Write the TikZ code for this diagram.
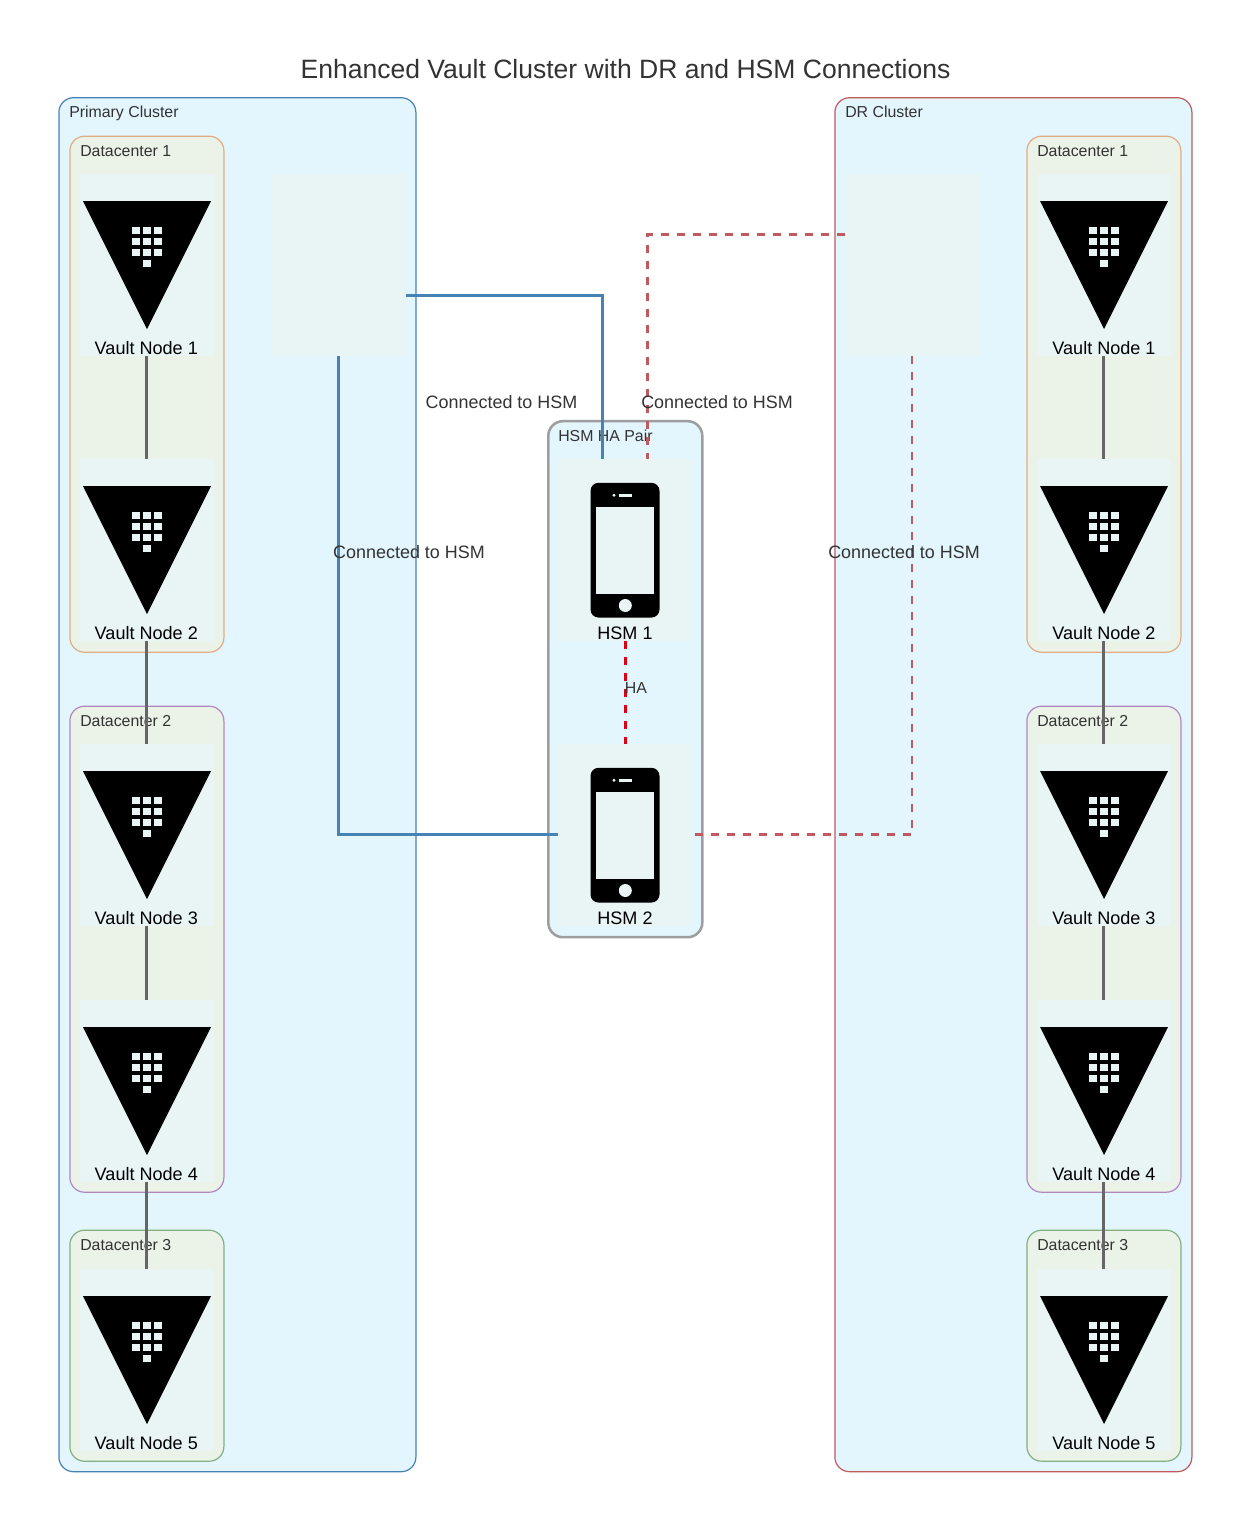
\documentclass[tikz,border=0pt]{standalone}
\usepackage{fontspec}
\setmainfont{Liberation Sans}
\usetikzlibrary{calc}
\definecolor{clusterfill}{HTML}{E3F5FD}
\definecolor{dcfill}{HTML}{EBF3E8}
\definecolor{nodefill}{HTML}{E8F5F4}
\definecolor{txt}{HTML}{333333}
\definecolor{primaryc}{HTML}{4682B4}
\definecolor{drc}{HTML}{C05A5F}
\definecolor{dcA}{HTML}{E0AC85}
\definecolor{dcB}{HTML}{B088C0}
\definecolor{dcC}{HTML}{82B080}
\definecolor{hsmgray}{HTML}{9E9E9E}
\definecolor{edgegray}{HTML}{666666}
\definecolor{hared}{HTML}{DD0011}
\tikzset{
  x=0.75pt,y=-0.75pt,
  clusterbox/.style={rectangle,rounded corners=11pt,fill=clusterfill,line width=0.9pt,inner sep=0pt,outer sep=0pt},
  dcbox/.style={rectangle,rounded corners=11pt,fill=dcfill,line width=0.9pt,inner sep=0pt,outer sep=0pt},
  hsmbox/.style={rectangle,rounded corners=11pt,fill=clusterfill,draw=hsmgray,line width=1.9pt,inner sep=0pt,outer sep=0pt},
  nodebox/.style={rectangle,fill=nodefill,inner sep=0pt,outer sep=0pt,minimum width=100.5pt,minimum height=136.5pt,anchor=north},
  emptybox/.style={rectangle,fill=nodefill,inner sep=0pt,outer sep=0pt,minimum width=100.5pt,minimum height=136.5pt,anchor=north west},
  grouplabel/.style={anchor=base west,inner sep=0pt,text=txt,font=\fontsize{11.9}{14}\selectfont},
  nodelabel/.style={anchor=base,inner sep=0pt,text=black,font=\fontsize{13.55}{16}\selectfont},
  edgelabel/.style={anchor=base,inner sep=0pt,text=txt,font=\fontsize{13.45}{16}\selectfont},
  titlelabel/.style={anchor=base,inner sep=0pt,text=txt,font=\fontsize{19.9}{24}\selectfont},
  link/.style={draw=edgegray,line width=2pt},
  prim/.style={draw=primaryc,line width=2pt},
  drl/.style={draw=drc,line width=1.9pt,dash pattern=on 6pt off 6pt},
  hal/.style={draw=hared,line width=1.9pt,dash pattern=on 6pt off 6pt},
}
\newcommand{\vaultnode}[5]{%
  \begin{scope}[shift={(#2,#3)}]
    \node[nodebox] (#1) at (0,0) {};
    \fill[black] (-64,27) -- (64,27) -- (0,155) -- cycle;
    \foreach \gx in {-11,0,11}{\foreach \gy in {52.7,63.7,74.7}{%
      \fill[nodefill] (\gx-3.7,\gy) rectangle (\gx+3.7,\gy+7.3);}}
    \fill[nodefill] (-3.7,85.7) rectangle (3.7,93);
    \node[nodelabel] (#1l) at (#5,180) {#4};
  \end{scope}}
\newcommand{\hsmnode}[4]{%
  \begin{scope}[shift={(#2,#3)}]
    \node[nodebox] (#1) at (0,0) {};
    \fill[black,rounded corners=6pt] (-34.5,23.8) rectangle (34.5,158.5);
    \fill[nodefill] (-29,47.8) rectangle (29.4,134.5);
    \fill[nodefill] (0.3,146.5) circle (6.5);
    \fill[nodefill] (-11,36.2) circle (1.6);
    \fill[nodefill] (-5.7,35.2) rectangle (6.7,37.5);
    \node[nodelabel] (#1l) at (0,180) {#4};
  \end{scope}}
\begin{document}
\begin{tikzpicture}
\useasboundingbox (0,0) rectangle (1251,1531);
\fill[white] (0,0) rectangle (1251,1531);
\node[titlelabel] (title) at (625.5,78) {Enhanced Vault Cluster with DR and HSM Connections};

% clusters
\node[clusterbox,draw=primaryc,anchor=north west,minimum width=267.75pt,minimum height=1030.5pt] (primary) at (58.9,97.7) {};
\node[clusterbox,draw=drc,anchor=north west,minimum width=267.75pt,minimum height=1030.5pt] (dr) at (834.9,97.7) {};
\node[hsmbox,anchor=north west,minimum width=115.5pt,minimum height=387pt] (hsmpair) at (548.3,421.2) {};
\node[grouplabel] (primaryl) at (69,117.5) {Primary Cluster};
\node[grouplabel] (drl) at (845,117.5) {DR Cluster};

% datacenters, primary
\node[dcbox,draw=dcA,anchor=north west,minimum width=115.5pt,minimum height=387pt] (pdc1) at (69.9,136.2) {};
\node[dcbox,draw=dcB,anchor=north west,minimum width=115.5pt,minimum height=364.5pt] (pdc2) at (69.9,706.2) {};
\node[dcbox,draw=dcC,anchor=north west,minimum width=115.5pt,minimum height=173.25pt] (pdc3) at (69.9,1230.2) {};
% datacenters, DR
\node[dcbox,draw=dcA,anchor=north west,minimum width=115.5pt,minimum height=387pt] (ddc1) at (1026.9,136.2) {};
\node[dcbox,draw=dcB,anchor=north west,minimum width=115.5pt,minimum height=364.5pt] (ddc2) at (1026.9,706.2) {};
\node[dcbox,draw=dcC,anchor=north west,minimum width=115.5pt,minimum height=173.25pt] (ddc3) at (1026.9,1230.2) {};

\node[grouplabel] (pdc1l) at (80,156) {Datacenter 1};
\node[grouplabel] (pdc2l) at (80,726) {Datacenter 2};
\node[grouplabel] (pdc3l) at (80,1250) {Datacenter 3};
\node[grouplabel] (ddc1l) at (1037,156) {Datacenter 1};
\node[grouplabel] (ddc2l) at (1037,726) {Datacenter 2};
\node[grouplabel] (ddc3l) at (1037,1250) {Datacenter 3};
\node[grouplabel] (hsmpairl) at (558,441) {HSM HA Pair};

% empty boxes
\node[emptybox] (lbp) at (271.7,174) {};
\node[emptybox] (lbd) at (845,174) {};

% vault nodes
\vaultnode{pa}{147}{174}{Vault Node 1}{-0.7}
\vaultnode{pb}{147}{459}{Vault Node 2}{-0.7}
\vaultnode{pc}{147}{744}{Vault Node 3}{-0.7}
\vaultnode{pd}{147}{1000}{Vault Node 4}{-0.7}
\vaultnode{pe}{147}{1269}{Vault Node 5}{-0.7}
\vaultnode{da}{1104}{174}{Vault Node 1}{0}
\vaultnode{db}{1104}{459}{Vault Node 2}{0}
\vaultnode{dc}{1104}{744}{Vault Node 3}{0}
\vaultnode{dd}{1104}{1000}{Vault Node 4}{0}
\vaultnode{de}{1104}{1269}{Vault Node 5}{0}

% HSM nodes
\hsmnode{hone}{625}{459}{HSM 1}
\hsmnode{htwo}{625}{744}{HSM 2}

% connectors
\tikzset{nudge/.style={xshift=-0.25pt}}
\draw[link] ([nudge]pa.south) -- ([nudge]pb.north);
\draw[link] ([nudge]pb.south) -- ([nudge]pc.north);
\draw[link] ([nudge]pc.south) -- ([nudge]pd.north);
\draw[link] ([nudge]pd.south) -- ([nudge]pe.north);
\draw[link] ([nudge]da.south) -- ([nudge]db.north);
\draw[link] ([nudge]db.south) -- ([nudge]dc.north);
\draw[link] ([nudge]dc.south) -- ([nudge]dd.north);
\draw[link] ([nudge]dd.south) -- ([nudge]de.north);
\draw[hal] ([xshift=0.3pt]hone.south) -- ([xshift=0.3pt]htwo.north);
\draw[prim] ([yshift=-22.8pt]lbp.east) -| ([xshift=-16.8pt]hone.north);
\draw[prim] (lbp.south) |- ([yshift=0.3pt]htwo.west);
\draw[drl] ([yshift=22.8pt]lbd.west) -| ([xshift=16.9pt]hone.north);
\draw[drl] (lbd.south) |- ([xshift=2.25pt,yshift=0.3pt]htwo.east);

% labels
\node[edgelabel] (e1) at (501.5,408) {Connected to HSM};
\node[edgelabel] (e2) at (717,408) {Connected to HSM};
\node[edgelabel] (e3) at (409,558) {Connected to HSM};
\node[edgelabel] (e4) at (904,558) {Connected to HSM};
\node[grouplabel,anchor=base] (e5) at (636,693) {HA};
\end{tikzpicture}
\end{document}
